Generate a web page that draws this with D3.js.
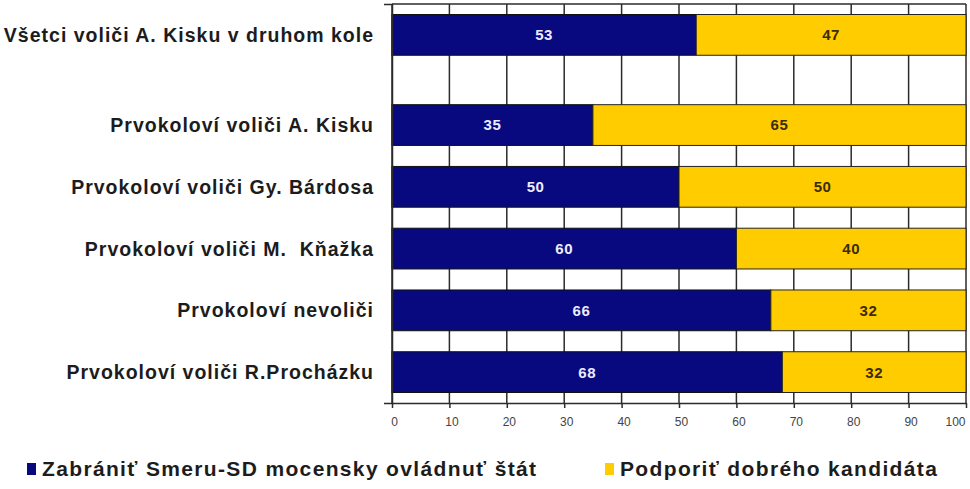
<!DOCTYPE html>
<html>
<head>
<meta charset="utf-8">
<script src="https://cdn.jsdelivr.net/npm/d3@7"></script>
<style>
  body { margin: 0; background: #fff; }
  svg { display: block; font-family: "Liberation Sans", Arial, sans-serif; }
  svg text { white-space: pre; }
</style>
</head>
<body>
<div id="chart"></div>
<script>
// categories, top to bottom
const categories = [
  "Všetci voliči A. Kisku v druhom kole",
  "Prvokoloví voliči A. Kisku",
  "Prvokoloví voliči Gy. Bárdosa",
  "Prvokoloví voliči M.  Kňažka",
  "Prvokoloví nevoliči",
  "Prvokoloví voliči R.Procházku"
];
// bar lengths (%)
const zabranit = [53, 35, 50, 60, 66, 68];
const podporit = [47, 65, 50, 40, 34, 32];
// numbers printed on the bars
const zabranitLabels = ["53", "35", "50", "60", "66", "68"];
const podporitLabels = ["47", "65", "50", "40", "32", "32"];
const seriesNames = ["Zabrániť Smeru-SD mocensky ovládnuť štát", "Podporiť dobrého kandidáta"];
const xTicks = [0, 10, 20, 30, 40, 50, 60, 70, 80, 90, 100];

const width = 970, height = 489;
const plotLeft = 392, plotRight = 966, plotTop = 4, plotBottom = 403;
const navy = "#08087f", yellow = "#ffcc00";
const gapAfterFirst = 0.46; // empty space between the first row and the others

const svg = d3.select("#chart").append("svg")
  .attr("width", width)
  .attr("height", height);

const xScale = d3.scaleLinear().domain([0, 100]).range([plotLeft, plotRight]);

// row positions: first row, then a gap, then the rest
const rowPos = categories.map((c, i) => i + (i > 0 ? gapAfterFirst : 0));
const yScale = d3.scaleLinear()
  .domain([-0.5, rowPos[rowPos.length - 1] + 0.5])
  .range([plotTop, plotBottom]);
const barH = (yScale(1) - yScale(0)) * 0.66;

// vertical grid
svg.append("g")
  .selectAll("line")
  .data(xTicks)
  .enter()
  .append("line")
  .attr("x1", d => xScale(d))
  .attr("x2", d => xScale(d))
  .attr("y1", plotTop)
  .attr("y2", plotBottom)
  .attr("stroke", "#2b2b2b")
  .attr("stroke-width", 1.5);

// top frame line
svg.append("line")
  .attr("x1", plotLeft).attr("x2", plotRight)
  .attr("y1", plotTop).attr("y2", plotTop)
  .attr("stroke", "#2b2b2b")
  .attr("stroke-width", 1.5);

const rows = categories.map((c, i) => ({
  cat: c, pos: rowPos[i],
  a: zabranit[i], b: podporit[i],
  la: zabranitLabels[i], lb: podporitLabels[i]
}));

const g = svg.append("g");

g.selectAll(".bar-a")
  .data(rows)
  .enter()
  .append("rect")
  .attr("class", "bar-a")
  .attr("x", d => xScale(0))
  .attr("y", d => yScale(d.pos) - barH / 2)
  .attr("width", d => xScale(d.a) - xScale(0))
  .attr("height", barH)
  .attr("fill", navy)
  .attr("stroke", "#111")
  .attr("stroke-width", 1);

g.selectAll(".bar-b")
  .data(rows)
  .enter()
  .append("rect")
  .attr("class", "bar-b")
  .attr("x", d => xScale(d.a))
  .attr("y", d => yScale(d.pos) - barH / 2)
  .attr("width", d => xScale(d.a + d.b) - xScale(d.a))
  .attr("height", barH)
  .attr("fill", yellow)
  .attr("stroke", "#222")
  .attr("stroke-width", 1);

g.selectAll(".lab-a")
  .data(rows)
  .enter()
  .append("text")
  .attr("x", d => (xScale(0) + xScale(d.a)) / 2)
  .attr("y", d => yScale(d.pos))
  .attr("dy", "0.36em")
  .attr("text-anchor", "middle")
  .attr("font-size", 15)
  .attr("font-weight", "bold")
  .attr("letter-spacing", 0.5)
  .attr("fill", "#ececff")
  .text(d => d.la);

g.selectAll(".lab-b")
  .data(rows)
  .enter()
  .append("text")
  .attr("x", d => (xScale(d.a) + xScale(d.a + d.b)) / 2)
  .attr("y", d => yScale(d.pos))
  .attr("dy", "0.36em")
  .attr("text-anchor", "middle")
  .attr("font-size", 15)
  .attr("font-weight", "bold")
  .attr("letter-spacing", 0.5)
  .attr("fill", "#3a2c05")
  .text(d => d.lb);

// category labels
svg.append("g")
  .selectAll("text")
  .data(rows)
  .enter()
  .append("text")
  .attr("x", 374)
  .attr("y", d => yScale(d.pos))
  .attr("dy", "0.36em")
  .attr("text-anchor", "end")
  .attr("font-size", 19.5)
  .attr("font-weight", "bold")
  .attr("letter-spacing", 1)
  .attr("fill", "#1c1c1c")
  .text(d => d.cat);

// left axis (no labels, only end ticks)
const yAxis = d3.axisLeft(yScale).tickValues([]).tickSizeOuter(8);
svg.append("g")
  .attr("transform", `translate(${plotLeft},0)`)
  .call(yAxis)
  .call(s => s.select(".domain").attr("stroke", "#2b2b2b").attr("stroke-width", 1.5));

// bottom axis
const xAxis = d3.axisBottom(xScale)
  .tickValues(xTicks)
  .tickSize(5)
  .tickSizeOuter(0);
svg.append("g")
  .attr("transform", `translate(0,${plotBottom})`)
  .call(xAxis)
  .call(s => s.select(".domain").attr("stroke", "#2b2b2b").attr("stroke-width", 1.5))
  .call(s => s.selectAll(".tick line").attr("stroke", "#2b2b2b").attr("stroke-width", 1.5))
  .call(s => s.selectAll(".tick text")
    .attr("y", 14)
    .attr("x", d => d === 100 ? -1 : 2)
    .attr("text-anchor", d => d === 100 ? "end" : "middle")
    .attr("font-size", 12)
    .attr("font-family", "Liberation Sans, Arial, sans-serif")
    .attr("fill", "#444"));

// legend
const legendX = [27, 605];
const legendColors = [navy, yellow];
const legend = svg.append("g")
  .selectAll("g")
  .data(seriesNames)
  .enter()
  .append("g")
  .attr("transform", (d, i) => `translate(${legendX[i]},468)`);

legend.append("rect")
  .attr("x", 0).attr("y", -5)
  .attr("width", 9).attr("height", 12)
  .attr("fill", (d, i) => legendColors[i]);

legend.append("text")
  .attr("x", 15)
  .attr("dy", "0.36em")
  .attr("font-size", 21)
  .attr("font-weight", "bold")
  .attr("letter-spacing", 1.35)
  .attr("fill", "#1c1c1c")
  .text(d => d);
</script>
</body>
</html>
